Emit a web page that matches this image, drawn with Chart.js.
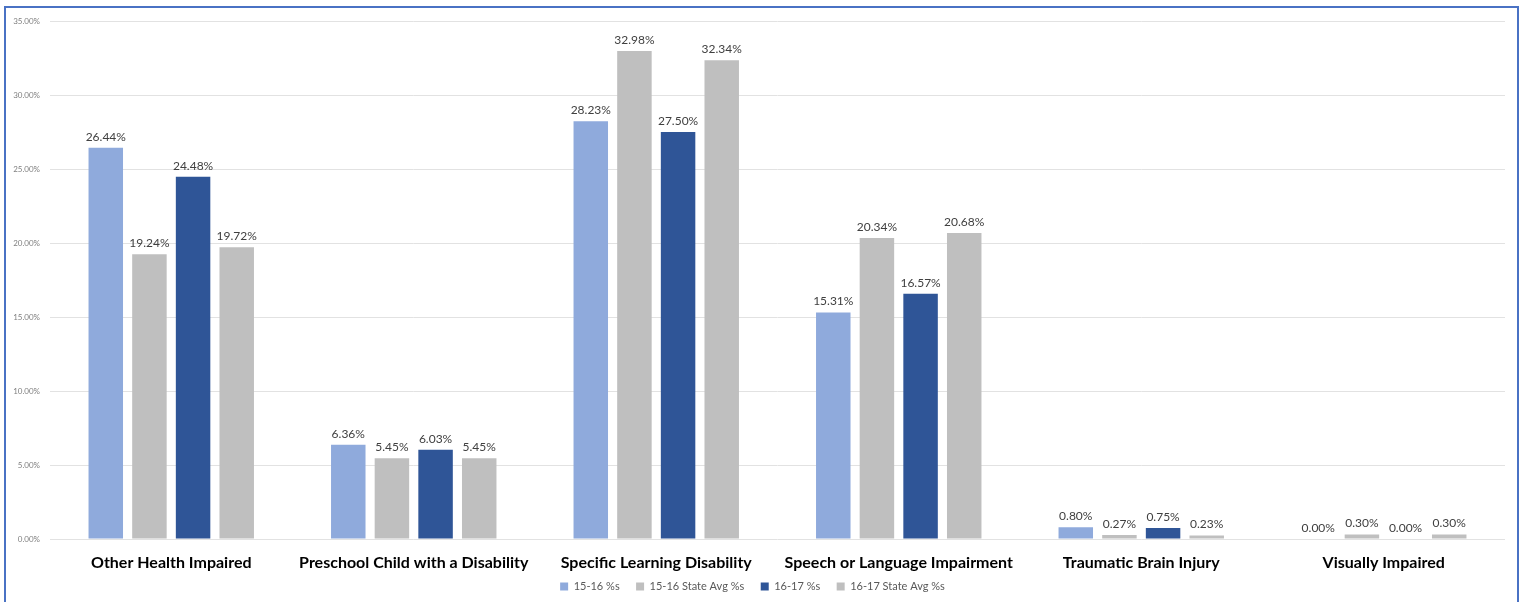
<!DOCTYPE html>
<html>
<head>
<meta charset="utf-8">
<script src="https://cdn.jsdelivr.net/npm/chart.js@4.4.0/dist/chart.umd.min.js"></script>
<style>
    html, body { margin: 0; padding: 0; background: #fff; }
    #wrap { position: relative; width: 1528px; height: 602px; overflow: hidden; }
    #frame {
        position: absolute; left: 4px; top: 6px; width: 1511px; height: 640px;
        border: 2px solid #4a72c4; pointer-events: none;
    }
</style>
</head>
<body>
<div id="wrap">
    <canvas id="myChart" width="1528" height="602"></canvas>
    <div id="frame"></div>
</div>
<script>
const categories = [
    'Other Health Impaired',
    'Preschool Child with a Disability',
    'Specific Learning Disability',
    'Speech or Language Impairment',
    'Traumatic Brain Injury',
    'Visually Impaired'
];
const series_names = ['15-16 %s', '15-16 State Avg %s', '16-17 %s', '16-17 State Avg %s'];
const pct_15_16 = [26.44, 6.36, 28.23, 15.31, 0.80, 0.00];
const state_15_16 = [19.24, 5.45, 32.98, 20.34, 0.27, 0.30];
const pct_16_17 = [24.48, 6.03, 27.50, 16.57, 0.75, 0.00];
const state_16_17 = [19.72, 5.45, 32.34, 20.68, 0.23, 0.30];
const y_ticks = [0, 5, 10, 15, 20, 25, 30, 35];

const colors = ['#8faadc', '#bfbfbf', '#2f5597', '#bfbfbf'];
const font_family = 'Lato, "Open Sans", sans-serif';

// draws the value over each bar, like the excel data labels
const valueLabels = {
    id: 'valueLabels',
    afterDatasetsDraw(chart) {
        let ctx = chart.ctx;
        ctx.save();
        ctx.font = '12px ' + font_family;
        ctx.fillStyle = '#404040';
        ctx.textAlign = 'center';
        ctx.textBaseline = 'bottom';
        chart.data.datasets.forEach((ds, i) => {
            let meta = chart.getDatasetMeta(i);
            meta.data.forEach((bar, j) => {
                ctx.fillText(ds.data[j].toFixed(2) + '%', bar.x, bar.y - 5);
            });
        });
        ctx.restore();
    }
};

let ctx = document.getElementById('myChart').getContext('2d');

new Chart(ctx, {
    type: 'bar',
    data: {
        labels: categories,
        datasets: [
            { label: series_names[0], data: pct_15_16, backgroundColor: colors[0] },
            { label: series_names[1], data: state_15_16, backgroundColor: colors[1] },
            { label: series_names[2], data: pct_16_17, backgroundColor: colors[2] },
            { label: series_names[3], data: state_16_17, backgroundColor: colors[3] }
        ]
    },
    options: {
        responsive: false,
        animation: false,
        layout: { padding: { top: 21, right: 23, left: 0, bottom: 0 } },
        datasets: {
            bar: { categoryPercentage: 0.72, barPercentage: 0.79 }
        },
        plugins: {
            legend: {
                position: 'bottom',
                labels: {
                    boxWidth: 8,
                    boxHeight: 8,
                    padding: 8,
                    color: '#595959',
                    font: { family: font_family, size: 11 },
                    // wider gaps between the items than the padding gives
                    generateLabels: (chart) => {
                        let items = Chart.defaults.plugins.legend.labels.generateLabels(chart);
                        items.forEach((it, i) => {
                            if (i < items.length - 1) it.text += '   ';
                        });
                        return items;
                    }
                }
            },
            tooltip: { enabled: false }
        },
        scales: {
            x: {
                grid: { display: false, drawTicks: false },
                border: { display: false },
                ticks: {
                    color: '#000',
                    padding: 14,
                    font: { family: font_family, size: 16, weight: 'bold' }
                },
                afterFit: (s) => { s.height = 34; }
            },
            y: {
                min: 0,
                max: 35,
                afterBuildTicks: (s) => { s.ticks = y_ticks.map(v => ({ value: v })); },
                grid: { color: '#e2e2e2', drawTicks: false },
                border: { display: false },
                ticks: {
                    color: '#7f7f7f',
                    padding: 10,
                    font: { family: font_family, size: 8 },
                    callback: (v) => v.toFixed(2) + '%'
                },
                afterFit: (s) => { s.width = 50; }
            }
        }
    },
    plugins: [valueLabels]
});
</script>
</body>
</html>
